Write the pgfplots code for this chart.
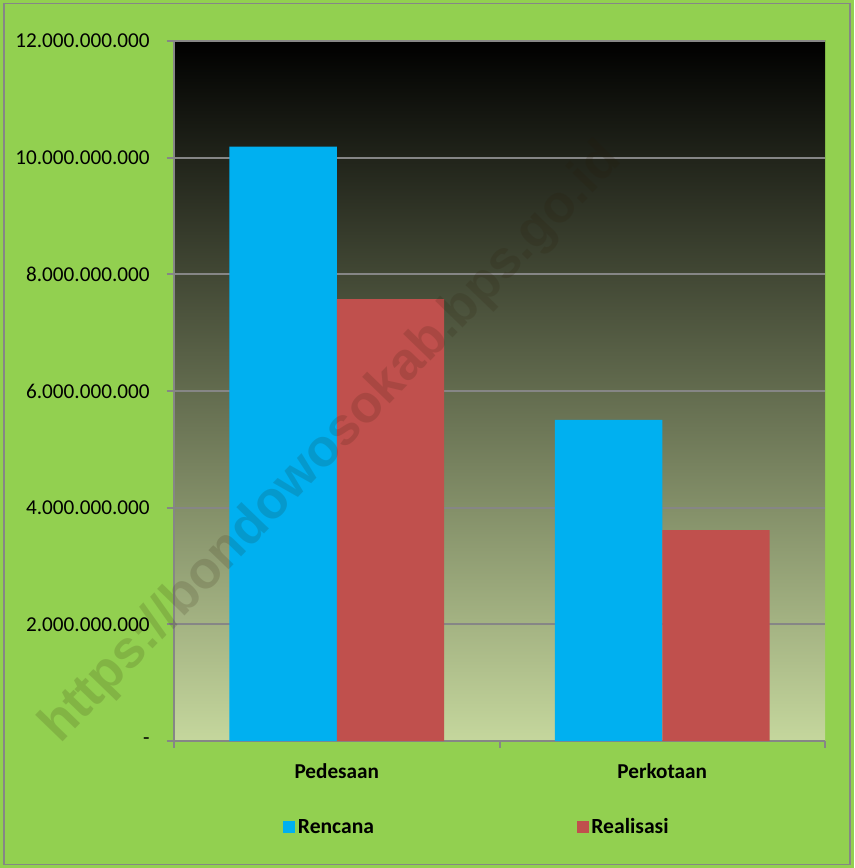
\documentclass[border=0pt]{standalone}
\usepackage{pgfplots}
\pgfplotsset{compat=1.18}
\usepackage{fontspec}
\setmainfont{Carlito}
\newfontfamily\wmfont{Liberation Sans}
\usetikzlibrary{shadings}

\definecolor{bggreen}{RGB}{146,208,80}
\definecolor{cren}{RGB}{0,176,240}
\definecolor{creal}{RGB}{192,80,77}
\definecolor{caxis}{RGB}{134,134,134}
\definecolor{cbottom}{RGB}{197,215,157}
\definecolor{cwm}{RGB}{40,25,5}

\begin{document}
\begin{tikzpicture}
% 1 px of the reference = 0.75pt
\fill[bggreen] (0,0) rectangle (640.5pt,651pt);
\draw[caxis, line width=1pt] (3pt,2.5pt) rectangle (637.5pt,648.5pt);

\begin{axis}[
  at={(130.5pt,95.25pt)}, anchor=south west,
  scale only axis, width=488.25pt, height=525pt,
  xmin=-0.5, xmax=1.5, ymin=0, ymax=12000000000,
  axis x line*=bottom, axis y line*=left,
  axis line style={caxis, line width=1.5pt, -},
  axis background/.style={shade, top color=black, bottom color=cbottom},
  xtick={0,1}, xticklabels={Pedesaan, Perkotaan},
  minor xtick={-0.5,0.5,1.5},
  major x tick style={draw=none},
  minor x tick style={caxis, line width=1.5pt},
  minor tick length=5.25pt,
  ytick={0,2000000000,4000000000,6000000000,8000000000,10000000000,12000000000},
  yticklabels={-, 2.000.000.000, 4.000.000.000, 6.000.000.000, 8.000.000.000, 10.000.000.000, 12.000.000.000},
  scaled y ticks=false,
  y tick style={caxis, line width=1.5pt},
  major tick length=5.25pt,
  tick align=outside,
  ymajorgrids, major grid style={caxis, line width=1.3pt},
  yticklabel style={font=\fontsize{15.9}{18}\selectfont, anchor=east, xshift=-9.5pt},
  xticklabel style={font=\fontsize{15.9}{18}\selectfont\bfseries, yshift=-8pt},
  legend style={at={(0.1674,-0.123)}, anchor=west, draw=none, fill=none,
                font=\fontsize{16.2}{18}\selectfont\bfseries, inner sep=0pt,
                /tikz/every even column/.append style={column sep=150pt}},
  legend columns=2,
  clip=false,
]
  \addplot[ybar, bar width=0.33, bar shift=-0.165, fill=cren, draw=none,
    legend image code/.code={\fill[cren] (0pt,-4.5pt) rectangle (9pt,4.5pt);}]
    coordinates {(0,10190000000) (1,5505000000)};
  \addlegendentry{Rencana}
  \addplot[ybar, bar width=0.33, bar shift=0.165, fill=creal, draw=none,
    legend image code/.code={\fill[creal] (0pt,-4.5pt) rectangle (9pt,4.5pt);}]
    coordinates {(0,7575000000) (1,3617000000)};
  \addlegendentry{Realisasi}
\end{axis}

\node[rotate=46, font=\wmfont\fontsize{39.5}{46}\selectfont\bfseries, text=cwm,
      opacity=0.15] at (249pt,318pt) {https://bondowosokab.bps.go.id};
\end{tikzpicture}
\end{document}
